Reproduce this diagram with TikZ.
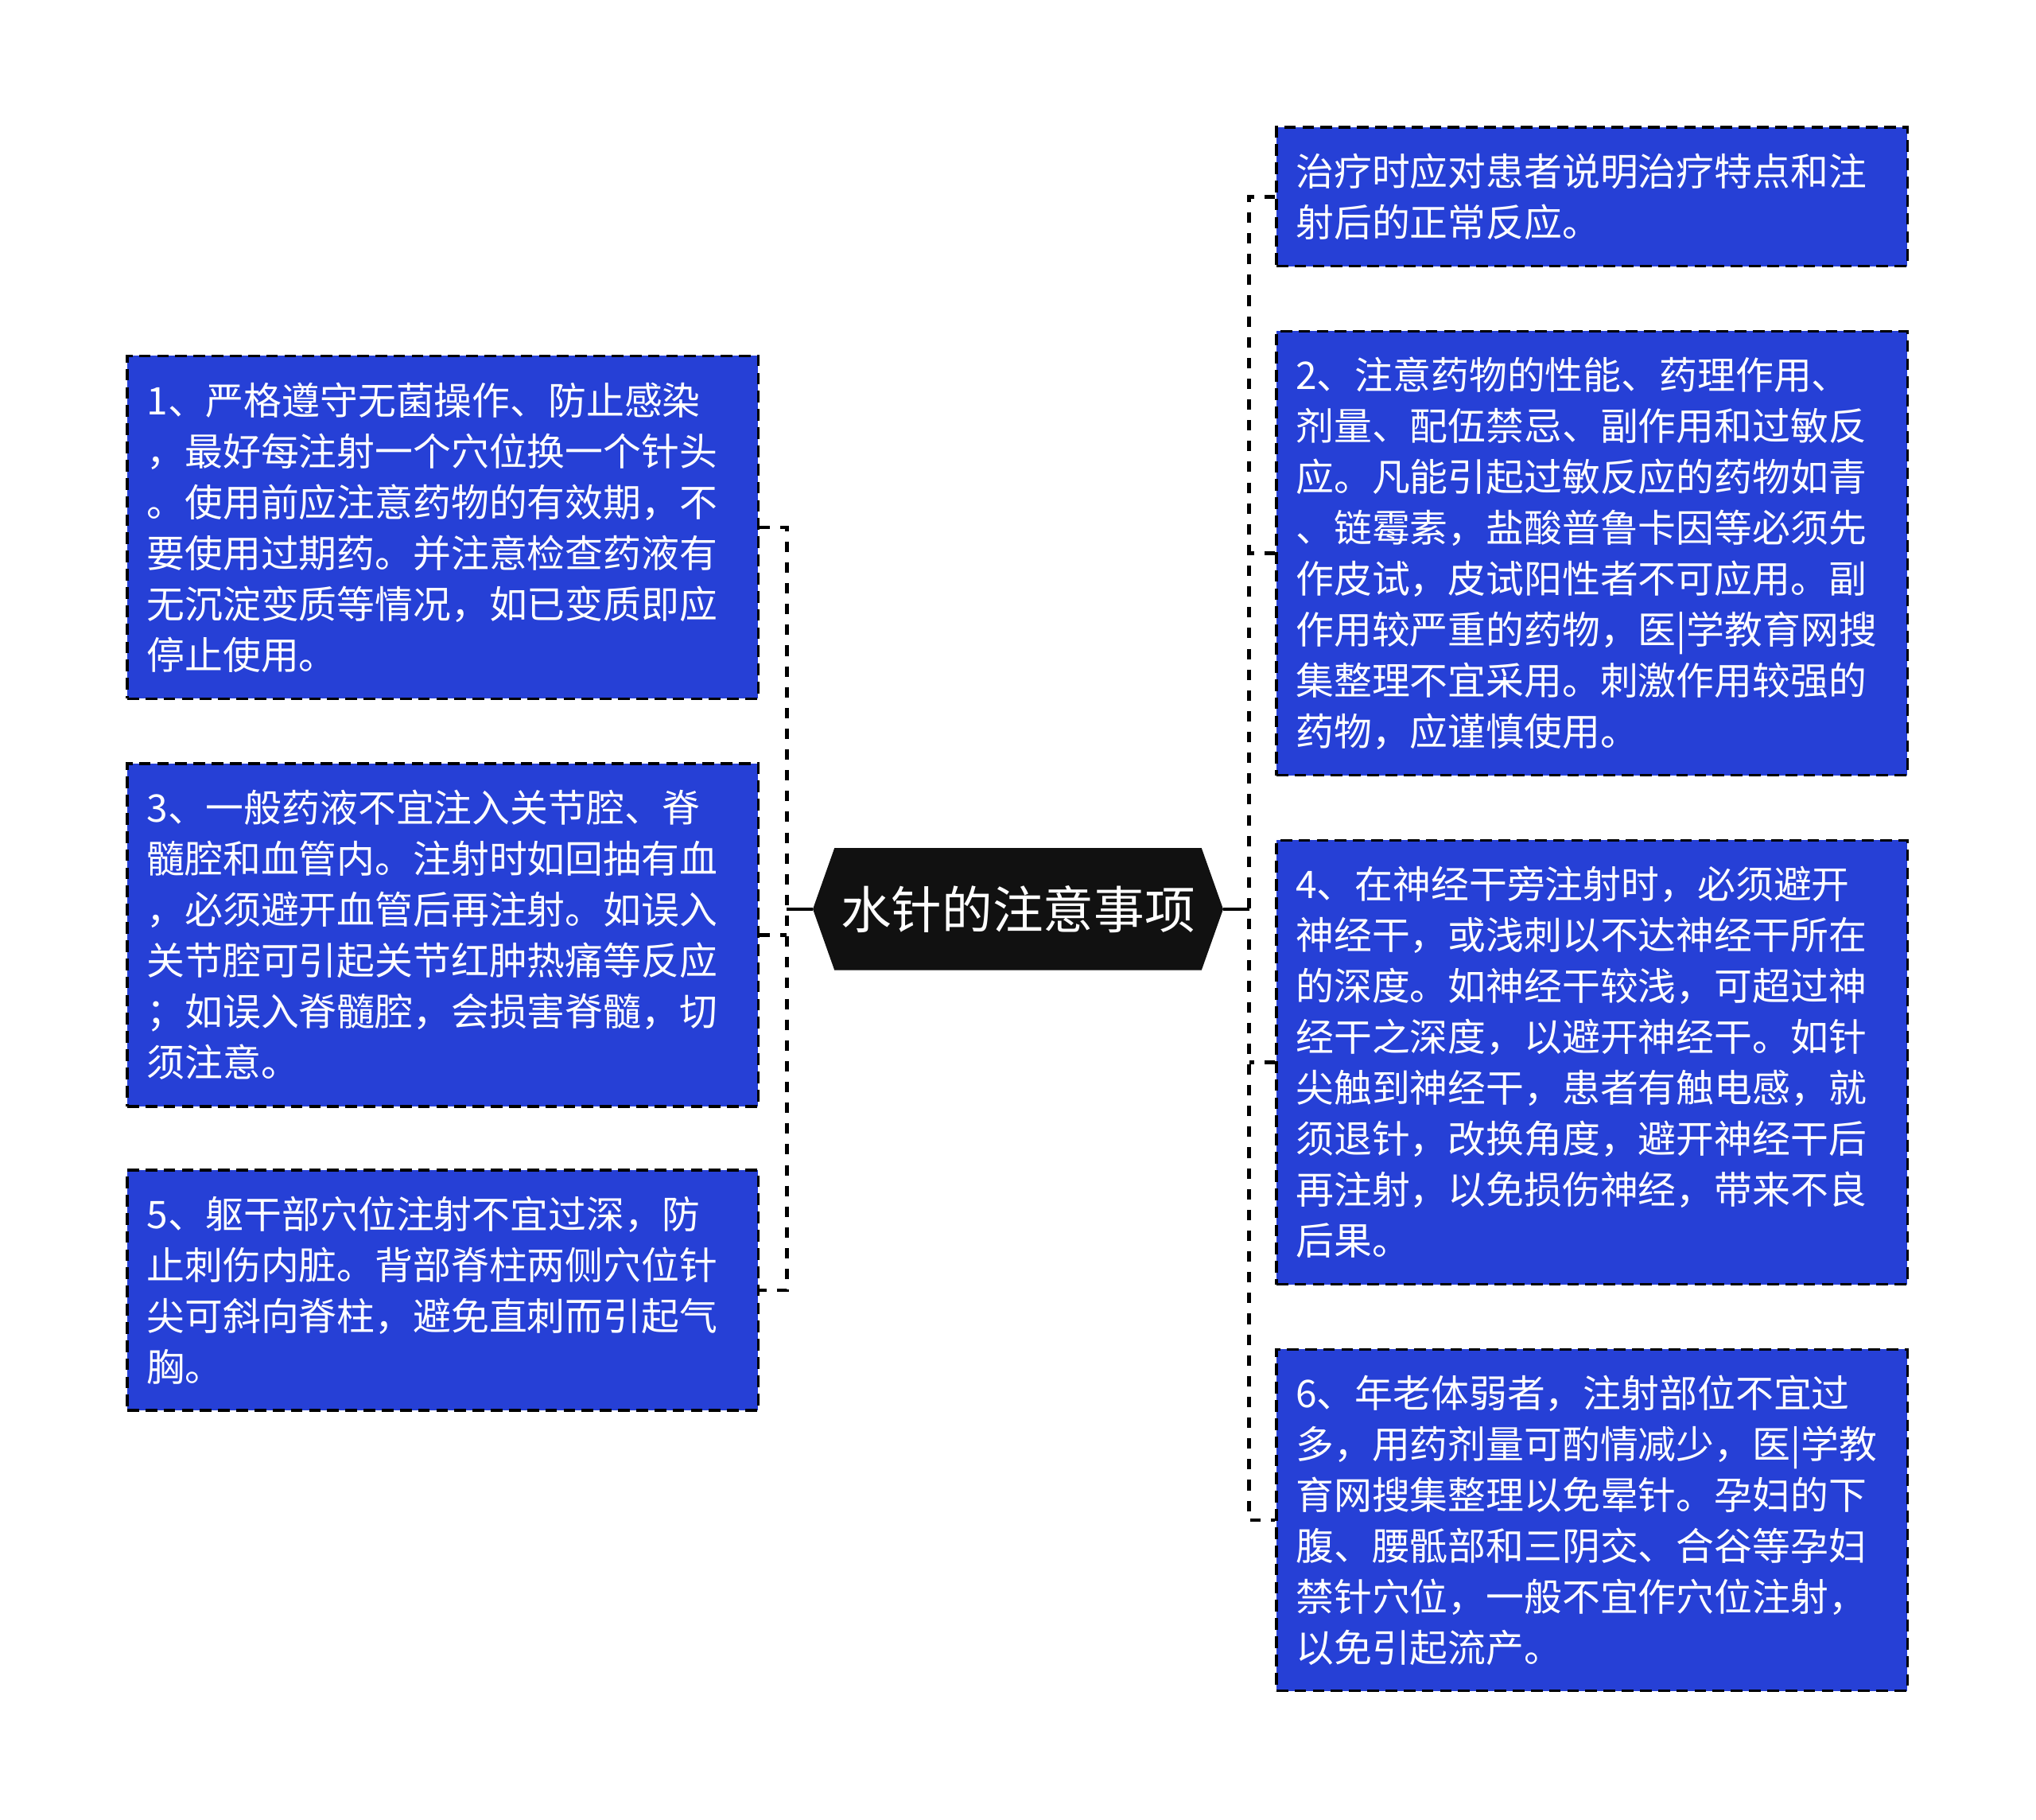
\documentclass[tikz,border=0pt]{standalone}
\usepackage{fontspec}
\newfontfamily\cjk{Noto Sans CJK SC}
\usepackage{tikz}
\usetikzlibrary{shapes.symbols}
\definecolor{leafblue}{RGB}{38,64,214}
\definecolor{hubblack}{RGB}{17,17,17}

\begin{document}
\begin{tikzpicture}[x=1pt, y=1pt,
  leaf/.style={draw=black, line width=2pt, dash pattern=on 9pt off 5pt, fill=leafblue,
    text=white, text width=456pt, align=left, inner xsep=15pt, inner ysep=0pt,
    font=\cjk\fontsize{29.3}{39.2}\selectfont},
  hub/.style={signal, signal to=west and east, signal pointer angle=141, fill=hubblack,
    text=white, minimum width=316pt, minimum height=94pt, inner xsep=4pt,
    font=\cjk\fontsize{39}{47}\selectfont},
  link/.style={line width=2.8pt, dash pattern=on 8pt off 8pt},
  stub/.style={line width=2.8pt}]
\useasboundingbox (0,0) rectangle (1568,-1401);

\node[hub] (hub) at (784,-700) {水针的注意事项};

\node[leaf, minimum height=264pt] (n1) at (341,-406) {1、严格遵守无菌操作、防止感染\\，最好每注射一个穴位换一个针头\\。使用前应注意药物的有效期，不\\要使用过期药。并注意检查药液有\\无沉淀变质等情况，如已变质即应\\停止使用。};
\node[leaf, minimum height=264pt] (n3) at (341,-720) {3、一般药液不宜注入关节腔、脊\\髓腔和血管内。注射时如回抽有血\\，必须避开血管后再注射。如误入\\关节腔可引起关节红肿热痛等反应\\；如误入脊髓腔，会损害脊髓，切\\须注意。};
\node[leaf, minimum height=185pt] (n5) at (341,-993.5) {5、躯干部穴位注射不宜过深，防\\止刺伤内脏。背部脊柱两侧穴位针\\尖可斜向脊柱，避免直刺而引起气\\胸。};

\node[leaf, minimum height=107pt] (n0) at (1226,-151.5) {治疗时应对患者说明治疗特点和注\\射后的正常反应。};
\node[leaf, minimum height=342pt] (n2) at (1226,-426) {2、注意药物的性能、药理作用、\\剂量、配伍禁忌、副作用和过敏反\\应。凡能引起过敏反应的药物如青\\、链霉素，盐酸普鲁卡因等必须先\\作皮试，皮试阳性者不可应用。副\\作用较严重的药物，医|学教育网搜\\集整理不宜采用。刺激作用较强的\\药物，应谨慎使用。};
\node[leaf, minimum height=342pt] (n4) at (1226,-818) {4、在神经干旁注射时，必须避开\\神经干，或浅刺以不达神经干所在\\的深度。如神经干较浅，可超过神\\经干之深度，以避开神经干。如针\\尖触到神经干，患者有触电感，就\\须退针，改换角度，避开神经干后\\再注射，以免损伤神经，带来不良\\后果。};
\node[leaf, minimum height=263pt] (n6) at (1226,-1170.5) {6、年老体弱者，注射部位不宜过\\多，用药剂量可酌情减少，医|学教\\育网搜集整理以免晕针。孕妇的下\\腹、腰骶部和三阴交、合谷等孕妇\\禁针穴位，一般不宜作穴位注射，\\以免引起流产。};

\coordinate (lj) at (606,-700);
\coordinate (rj) at (962,-700);

\draw[stub] (hub.west) -- (lj);
\draw[link] (n1.east) -- (n1.east -| lj) -- (n5.east -| lj) -- (n5.east);
\draw[link] (n3.east) -- (n3.east -| lj);

\draw[stub] (hub.east) -- (rj);
\draw[link] (n0.west) -- (n0.west -| rj) -- (n6.west -| rj) -- (n6.west);
\draw[link] (n2.west) -- (n2.west -| rj);
\draw[link] (n4.west) -- (n4.west -| rj);
\end{tikzpicture}
\end{document}
